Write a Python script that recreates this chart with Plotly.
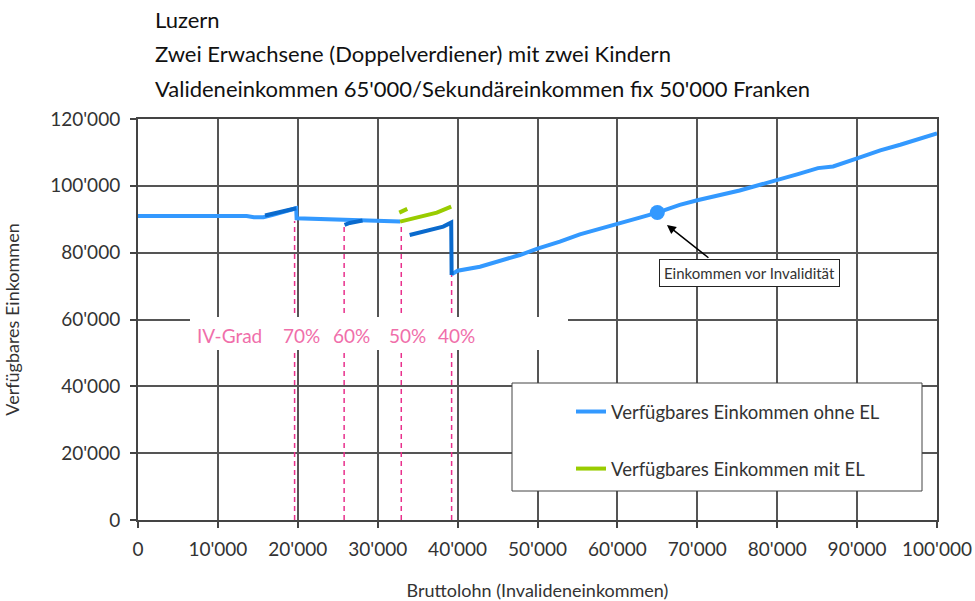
import plotly.graph_objects as go

# ---------------- data ----------------
# Verfügbares Einkommen ohne EL (light blue)
ohne_x = [0, 5000, 9000, 10000, 13600, 14500, 15700, 16900, 18600, 19800, 19850, 22500, 24000, 25800,
          28000, 30000, 31000, 32800, None,
          39250, 40000, 42800, 45300, 47800, 50000, 52800, 55300, 57800, 60000, 62800, 65000,
          67800, 70000, 75300, 78000, 80000, 82600, 85100, 87000, 90000, 92900, 95400, 100000]
ohne_y = [91000, 91000, 90900, 91000, 91000, 90600, 90600, 91300, 92600, 93300, 90300, 90100, 89700, 89600,
          89600, 89500, 89200, 89300, None,
          73500, 74600, 75800, 77500, 79300, 81200, 83300, 85500, 87300, 88600, 90500, 92000,
          94300, 95700, 98600, 100400, 101500, 103500, 105300, 105800, 108200, 110600, 112300, 115700]

# second (darker) part of the "ohne EL" curve
dark_x = [15900, 17500, 18800, 19800, None,
          25850, 26500, 28100, None,
          34000, 35300, 37000, 38200, 39200, 39250]
dark_y = [91100, 91900, 92600, 93300, None,
          88300, 88900, 89600, None,
          85300, 86000, 87000, 87800, 89000, 73300]

# Verfügbares Einkommen mit EL (green)
mit_x = [32700, 33700, None, 32800, 35300, 37400, 39200]
mit_y = [92000, 93100, None, 89300, 90800, 92000, 93800]

# Einkommen vor Invalidität
vor_x = [65000]
vor_y = [92000]

# IV-Grad thresholds
iv_x = [19600, 25800, 32950, 39250]
iv_top = [89500, 88000, 88800, 73300]
iv_labels = ["70%", "60%", "50%", "40%"]
iv_label_x = [20460, 26780, 33730, 39920]

x_ticks = [0, 10000, 20000, 30000, 40000, 50000, 60000, 70000, 80000, 90000, 100000]
x_ticktext = ["0", "10'000", "20'000", "30'000", "40'000", "50'000", "60'000", "70'000",
              "80'000", "90'000", "100'000"]
y_ticks = [0, 20000, 40000, 60000, 80000, 100000, 120000]
y_ticktext = ["0", "20'000", "40'000", "60'000", "80'000", "100'000", "120'000"]

title_lines = ["Luzern",
               "Zwei Erwachsene (Doppelverdiener) mit zwei Kindern",
               "Valideneinkommen 65'000/Sekundäreinkommen fix 50'000 Franken"]

FONT = "Lato"
LIGHT = "#3399FF"
DARK = "#0A6ACD"
GREEN = "#99CC00"
PINK = "#E8308C"
PINK_TXT = "#F06EAA"
TXT = "#333333"

# build dashed pink verticals
pink_x, pink_y = [], []
for xv, yt in zip(iv_x, iv_top):
    pink_x += [xv, xv, None]
    pink_y += [0, yt, None]

fig = go.Figure()
fig.add_trace(go.Scatter(x=pink_x, y=pink_y, mode="lines", showlegend=False,
                         line=dict(color=PINK, width=1.5, dash="5px,4px"), hoverinfo="skip"))
fig.add_trace(go.Scatter(x=ohne_x, y=ohne_y, mode="lines", name="Verfügbares Einkommen ohne EL",
                         legendgroup="a", line=dict(color=LIGHT, width=4)))
fig.add_trace(go.Scatter(x=dark_x, y=dark_y, mode="lines", showlegend=False,
                         line=dict(color=DARK, width=4)))
fig.add_trace(go.Scatter(x=mit_x, y=mit_y, mode="lines", name="Verfügbares Einkommen mit EL",
                         legendgroup="b", line=dict(color=GREEN, width=4)))
fig.add_trace(go.Scatter(x=vor_x, y=vor_y, mode="markers", showlegend=False,
                         marker=dict(color=LIGHT, size=15)))

shapes = [
    # white band behind IV-Grad labels
    dict(type="rect", xref="paper", yref="paper", layer="above",
         x0=(190 - 138) / 799, x1=(568 - 138) / 799, y0=(520 - 350) / 401, y1=(520 - 317) / 401,
         fillcolor="white", line=dict(width=0)),
    # legend box
    dict(type="rect", xref="paper", yref="paper", layer="above",
         x0=(512 - 138) / 799, x1=(922 - 138) / 799, y0=(520 - 491) / 401, y1=(520 - 383) / 401,
         fillcolor="white", line=dict(color="#444444", width=1)),
]

annotations = []
for i, t in enumerate(title_lines):
    ypx = [20, 53, 88][i]
    annotations.append(dict(text=t, xref="paper", yref="paper", x=(153 - 138) / 799,
                            y=(520 - ypx) / 401, xanchor="left", yanchor="middle", showarrow=False,
                            font=dict(family=FONT, size=22, color="#111111")))
annotations.append(dict(text="IV-Grad", x=11480, y=(520 - 335) / 3.342 * 1000, xref="x", yref="y",
                        showarrow=False, font=dict(family=FONT, size=19, color=PINK_TXT)))
for lx, lab in zip(iv_label_x, iv_labels):
    annotations.append(dict(text=lab, x=lx, y=(520 - 335) / 3.342 * 1000, xref="x", yref="y",
                            showarrow=False, font=dict(family=FONT, size=19, color=PINK_TXT)))
# arrow
annotations.append(dict(text="", x=66200, y=88300, xref="x", yref="y", ax=43, ay=34,
                        showarrow=True, arrowhead=2, arrowsize=1.2, arrowwidth=1.5,
                        arrowcolor="#000000"))
annotations.append(dict(text="Einkommen vor Invalidität", x=(749 - 138) / 7.99 * 1000,
                        y=(520 - 273) / 3.342 * 1000, xref="x", yref="y", showarrow=False,
                        bgcolor="white", bordercolor="#222222", borderwidth=1, borderpad=4,
                        font=dict(family=FONT, size=15, color=TXT)))

fig.update_layout(
    width=975, height=601, autosize=False,
    margin=dict(l=138, r=38, t=119, b=81, autoexpand=False),
    paper_bgcolor="white", plot_bgcolor="white",
    font=dict(family=FONT, color=TXT),
    shapes=shapes, annotations=annotations,
    showlegend=True,
    legend=dict(x=(571 - 138) / 799, y=(520 - 393) / 401, xanchor="left", yanchor="top",
                bgcolor="rgba(0,0,0,0)", borderwidth=0, traceorder="grouped",
                tracegroupgap=30, font=dict(family=FONT, size=18.5, color=TXT)),
    xaxis=dict(range=[0, 100000], tickvals=x_ticks, ticktext=x_ticktext,
               showgrid=True, gridcolor="#555555", gridwidth=1.5,
               showline=True, linecolor="#444444", linewidth=2, mirror=True,
               ticks="outside", ticklen=6, tickcolor="#444444", tickwidth=1.5,
               ticklabelstandoff=5, automargin=False,
               tickfont=dict(family=FONT, size=19, color=TXT), zeroline=False,
               title=dict(text="Bruttolohn (Invalideneinkommen)", standoff=27,
                          font=dict(family=FONT, size=18, color=TXT))),
    yaxis=dict(range=[0, 120000], tickvals=y_ticks, ticktext=y_ticktext,
               showgrid=True, gridcolor="#555555", gridwidth=1.5,
               showline=True, linecolor="#444444", linewidth=2, mirror=True,
               ticks="outside", ticklen=6, tickcolor="#444444", tickwidth=1.5,
               ticklabelstandoff=6, automargin=False,
               tickfont=dict(family=FONT, size=19, color=TXT), zeroline=False,
               title=dict(text="Verfügbares Einkommen", standoff=26,
                          font=dict(family=FONT, size=18, color=TXT))),
)

fig.write_html("out.html", config={"displayModeBar": False},
               post_script="document.body.style.margin='0';document.body.style.overflow='hidden';")
